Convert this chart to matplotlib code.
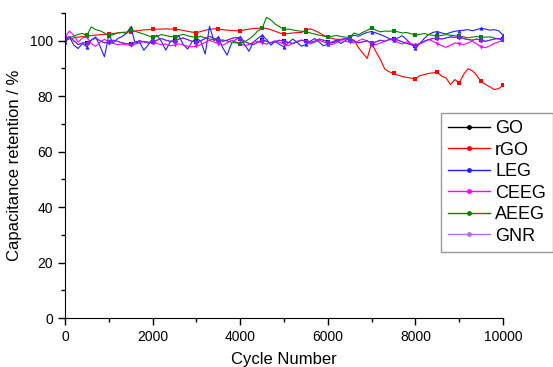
import numpy as np
import matplotlib
matplotlib.use("Agg")
import matplotlib.pyplot as plt
from matplotlib.ticker import MultipleLocator

plt.rcParams['font.family'] = ['Liberation Sans', 'DejaVu Sans']

cycles = list(range(0, 10001, 100))

rgo = [100.2, 100.6, 101.0, 101.3, 101.5, 101.7, 101.9, 102.0, 102.2, 102.3, 102.4,
       102.6, 102.8, 103.0, 103.1, 103.3, 103.5, 103.7, 103.9, 104.0, 104.1,
       104.2, 104.2, 104.3, 104.2, 104.2, 104.0, 103.7, 103.4, 103.1, 102.9,
       103.3, 103.8, 104.1, 104.3, 104.2, 104.0, 103.8, 103.7, 103.6, 103.6,
       103.9, 104.2, 104.4, 104.5, 104.6, 104.4, 104.0, 103.4, 102.8, 102.4,
       102.6, 102.8, 102.9, 103.0, 103.8, 104.3, 103.7, 102.9, 102.0, 101.2,
       100.8, 100.5, 100.5, 100.6, 100.7, 100.2, 97.5, 95.5, 93.6, 99.2,
       96.0, 93.2, 89.8, 88.8, 88.2, 87.6, 87.1, 86.8, 86.5, 86.3,
       87.4, 87.8, 88.2, 88.4, 88.7, 87.2, 86.6, 84.2, 86.0, 84.8,
       87.8, 89.9, 89.2, 87.5, 85.3, 84.2, 83.4, 82.4, 82.7, 83.9]

aeeg = [100.8, 101.2, 101.6, 102.3, 102.6, 101.9, 105.0, 104.0, 103.6, 102.8, 101.6,
        102.2, 102.8, 103.0, 102.6, 103.9, 103.4, 102.9, 102.4, 101.8, 101.2,
        101.6, 102.2, 101.9, 101.5, 101.4, 101.9, 102.3, 101.8, 101.4, 101.2,
        101.6, 101.0, 100.6, 100.4, 100.2, 100.3, 99.9, 99.5, 99.2, 99.0,
        99.6, 100.6, 101.8, 103.5, 104.5, 108.4, 107.5, 106.0, 105.0, 104.1,
        104.2, 103.9, 103.6, 103.4, 103.3, 102.8, 102.4, 102.0, 101.7, 101.4,
        101.6, 101.9, 101.5, 101.3, 101.2, 102.8, 102.2, 103.0, 103.8, 104.6,
        103.8, 103.2, 103.5, 103.4, 103.6, 103.2, 102.8, 103.0, 102.5, 102.0,
        102.3, 102.6, 102.2, 101.9, 101.7, 101.9, 102.2, 102.0, 101.8, 101.7,
        101.4, 101.0, 101.3, 101.5, 101.2, 101.3, 101.4, 101.0, 100.6, 100.2]

leg = [99.6, 101.5, 98.4, 97.2, 99.0, 97.8, 100.2, 101.4, 98.0, 94.2, 102.0,
       99.2, 100.8, 101.5, 102.6, 105.0, 99.2, 99.6, 96.6, 98.5, 100.8,
       102.0, 99.8, 96.6, 99.5, 100.2, 101.8, 98.6, 97.0, 99.6, 101.0,
       99.8, 95.2, 105.2, 100.0, 101.4, 97.5, 94.8, 99.0, 100.5, 101.4,
       98.6, 96.2, 99.5, 100.8, 102.0, 100.5, 98.4, 99.8, 98.6, 97.8,
       99.2, 100.6, 99.4, 98.0, 98.7, 99.8, 100.8, 99.5, 98.2, 98.7,
       99.6, 100.2, 99.0, 100.0, 101.2, 102.0, 101.6, 102.4, 103.0, 103.3,
       102.8, 102.2, 101.6, 100.8, 100.2, 101.0, 101.8, 100.4, 98.8, 97.5,
       99.0, 100.8, 102.2, 103.0, 103.3, 102.8, 102.4, 103.0, 103.4, 103.6,
       103.8, 104.0, 103.6, 104.0, 104.5, 104.2, 103.8, 104.0, 103.6, 102.0]

ceeg = [101.4, 103.5, 102.0, 99.5, 101.0, 101.2, 99.0, 98.0, 99.5, 100.5, 99.6,
        99.0, 98.6, 98.8, 98.5, 98.4, 98.8, 99.2, 99.8, 99.5, 99.6,
        99.0, 98.6, 98.8, 98.2, 98.4, 98.9, 98.5, 98.0, 97.8, 98.0,
        98.6, 99.4, 100.2, 99.5, 99.0, 98.4, 99.2, 100.2, 99.6, 99.0,
        98.2, 98.6, 99.5, 99.8, 99.2, 98.8, 99.4, 100.0, 99.4, 98.8,
        98.2, 99.0, 99.8, 100.2, 99.6, 98.8, 99.5, 100.2, 99.6, 99.0,
        98.6, 99.4, 100.0, 99.8, 99.5, 99.2, 100.0, 100.6, 99.8, 99.0,
        98.6, 99.2, 99.8, 100.4, 100.2, 99.4, 98.8, 99.6, 99.0, 98.4,
        98.8, 99.6, 100.4, 99.8, 99.0, 98.2, 97.6, 98.4, 99.2, 99.0,
        98.6, 99.2, 99.8, 98.8, 97.8, 97.5, 98.2, 99.0, 99.6, 100.2]

gnr = [100.5, 101.5, 100.0, 98.6, 99.2, 99.3, 100.2, 101.0, 100.0, 99.2, 99.6,
       100.2, 99.8, 99.2, 99.0, 98.8, 99.4, 100.0, 99.6, 99.2, 99.5,
       100.2, 100.8, 100.2, 99.8, 100.0, 100.6, 101.0, 100.4, 99.8, 99.6,
       100.0, 100.8, 101.6, 100.8, 100.4, 99.8, 100.2, 100.8, 101.2, 100.6,
       99.8, 99.0, 98.6, 99.4, 100.2, 99.8, 99.2, 99.6, 100.2, 99.8,
       99.4, 99.0, 99.6, 100.2, 100.0, 99.4, 99.8, 100.6, 100.2, 99.6,
       99.2, 99.8, 100.4, 100.8, 100.4, 99.8, 99.2, 99.6, 100.0, 99.0,
       99.6, 100.2, 99.8, 100.4, 100.8, 100.2, 99.6, 99.0, 98.6, 98.2,
       99.0, 99.8, 100.4, 100.8, 101.0, 100.6, 101.0, 101.4, 101.2, 101.4,
       100.8, 100.4, 100.2, 100.6, 100.2, 99.8, 100.2, 100.6, 100.8, 100.8]

# GO curve lies hidden beneath the other traces in the reference
go = list(gnr)

labels = ["GO", "rGO", "LEG", "CEEG", "AEEG", "GNR"]
xticks = [0, 2000, 4000, 6000, 8000, 10000]
yticks = [0, 20, 40, 60, 80, 100]

fig = plt.figure(figsize=(5.53, 3.67), dpi=100)
ax = fig.add_axes([65/553, 49/367, 438/553, 305/367])

series = [
    (go, "GO", "black", "s", 0.5),
    (rgo, "rGO", "#ff0000", "s", 0.8),
    (leg, "LEG", "#2020ff", "^", 0.8),
    (ceeg, "CEEG", "#ff00ff", "v", 0.8),
    (aeeg, "AEEG", "#008000", "s", 0.8),
    (gnr, "GNR", "#8020ff", "D", 0.8),
]
handles = []
for ys, lab, col, mk, lw in series:
    h, = ax.plot(cycles, ys, color=col, lw=lw, marker=mk, markersize=3,
                 markevery=5, markeredgewidth=0, label=lab)
    handles.append(h)

ax.set_xlim(0, 10000)
ax.set_ylim(0, 110)
ax.set_xticks(xticks)
ax.set_yticks(yticks)
ax.xaxis.set_minor_locator(MultipleLocator(1000))
ax.yaxis.set_minor_locator(MultipleLocator(10))
ax.spines['top'].set_visible(False)
ax.spines['right'].set_visible(False)
ax.tick_params(which='major', direction='out', length=5, width=1, labelsize=10)
ax.tick_params(which='minor', direction='out', length=3, width=1)
ax.set_xlabel("Cycle Number", fontsize=12, labelpad=6)
ax.set_ylabel("Capacitance retention / %", fontsize=12, labelpad=6)

from matplotlib.lines import Line2D
leg_handles = [Line2D([], [], color=c, lw=1.0, marker='o', markersize=2.5)
               for c in ["black", "#ff0000", "#2020ff", "#ff00ff", "#008000", "#b070ff"]]
lg = fig.legend(leg_handles, labels, loc='upper left',
                bbox_to_anchor=(441/553, 1 - 113/367), fontsize=13,
                frameon=True, fancybox=False, edgecolor='#808080',
                handlelength=2.3, handletextpad=0.3, labelspacing=0.25,
                borderpad=0.4, borderaxespad=0)
lg.get_frame().set_linewidth(1.0)

fig.savefig("out.png", dpi=100)
